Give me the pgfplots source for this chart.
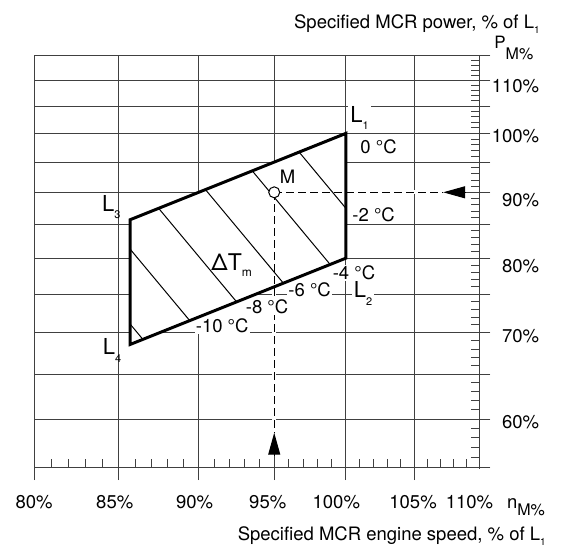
\documentclass[border=0pt]{standalone}
\usepackage{fontspec}
\setmainfont{TeX Gyre Heros}
\usepackage{pgfplots}
\pgfplotsset{compat=1.18}
\usetikzlibrary{arrows.meta}
\definecolor{gridc}{gray}{0.25}
\newcommand\lab{\fontsize{9.25pt}{11pt}\selectfont}
\newcommand\Lfont{\fontsize{11pt}{13pt}\selectfont}
\newcommand\Lsub[1]{L\raisebox{-3.6pt}{\fontsize{5.5pt}{6pt}\selectfont #1}}
\newcommand\Tsub[1]{L\raisebox{-2.4pt}{\fontsize{5pt}{6pt}\selectfont #1}}
\begin{document}
\begin{tikzpicture}[x=0.5pt,y=-0.5pt,font=\lab]
\useasboundingbox (0,0) rectangle (561,551);
\begin{axis}[
  at={(17pt,-233.85pt)}, anchor=south west,
  scale only axis, width=222.5pt, height=206.2pt,
  xmode=log, ymode=log,
  xmin=80, xmax=110, ymin=55, ymax=115,
  axis line style={draw=gridc, line width=0.5pt},
  xtick pos=left, ytick pos=right, yticklabel pos=right,
  % minor (inside) ticks as main ticks
  xtick={81,82,83,84,86,87,88,89,91,92,93,94,96,97,98,99,101,102,103,104,106,107,108,109},
  ytick={56,57,58,59,61,62,63,64,66,67,68,69,71,72,73,74,76,77,78,79,81,82,83,84,86,87,88,89,91,92,93,94,96,97,98,99,101,102,103,104,106,107,108,109,111,112,113,114},
  xticklabels={}, yticklabels={},
  tick align=inside, major tick length=4.25pt,
  tick style={draw=gridc, line width=0.5pt},
  % major (outside) ticks with grid and labels
  extra x ticks={80,85,90,95,100,105,110},
  extra x tick labels={80\%, \kern-4pt 85\%, \kern-4pt 90\%, \kern-6.5pt 95\%, \kern-9.6pt 100\%, \kern-1pt 105\%, \kern-9.6pt 110\%},
  extra x tick style={tick align=outside, major tick length=6.25pt, grid=major},
  extra y ticks={55,60,65,70,75,80,85,90,95,100,105,110,115},
  extra y tick labels={, \raisebox{-4.5pt}{60\%}, , \raisebox{-5pt}{70\%}, , \raisebox{-7pt}{80\%}, , \raisebox{-7.15pt}{90\%}, , \raisebox{-4.5pt}{100\%}, , \raisebox{-6.3pt}{110\%}, },
  extra y tick style={tick align=outside, major tick length=5.75pt, grid=major},
  major grid style={draw=gridc, line width=0.5pt},
  /pgf/number format/assume math mode=true,
  tick label style={font=\lab, inner sep=0pt},
  xticklabel style={anchor=base, yshift=-14.15pt},
  yticklabel style={anchor=base east, xshift=24.5pt},
  xlabel={Specified MCR engine speed, \% of \Tsub{1}},
  ylabel={Specified MCR power, \% of \Tsub{1}},
  every axis x label/.style={at={(axis description cs:1.1506,-0.1777)}, anchor=base east, inner sep=0pt, font=\lab},
  every axis y label/.style={at={(axis description cs:1.137,1.0638)}, anchor=base east, inner sep=0pt, font=\lab},
]
% layout area (white fill hides the grid)
\addplot[draw=none, fill=white] coordinates {(100,100) (100,80) (85.7,68.56) (85.7,85.7)} -- cycle;
% constant temperature lines (every -2 C)
\addplot[black, line width=0.5pt] coordinates {(96.71,96.71) (100,87.46)};
\addplot[black, line width=0.5pt] coordinates {(93.52,93.52) (98.88,79.11)};
\addplot[black, line width=0.5pt] coordinates {(90.44,90.44) (95.63,76.50)};
\addplot[black, line width=0.5pt] coordinates {(87.46,87.46) (92.48,73.99)};
\addplot[black, line width=0.5pt] coordinates {(85.7,81.29) (89.43,71.55)};
\addplot[black, line width=0.5pt] coordinates {(85.7,71.10) (86.48,69.19)};
% blank the grid under the dashed guide lines
\addplot[white, line width=2pt] coordinates {(100.3,90) (108.91,90)};
\addplot[white, line width=2pt] coordinates {(95,75.6) (95,56.19)};
% dashed guide lines from M
\addplot[black, line width=0.5pt, dash pattern=on 4pt off 2pt] coordinates {(95,90) (107.21,90)};
\addplot[black, line width=0.5pt, dash pattern=on 4pt off 2pt] coordinates {(95,90) (95,58.55)};
\addplot[black, line width=0.5pt, -{Triangle[length=11pt,width=6pt]}] coordinates {(108.91,90) (107.21,90)};
\addplot[black, line width=0.5pt, -{Triangle[length=11pt,width=6pt]}] coordinates {(95,56.19) (95,58.55)};
% labels inside the diagram
\node[anchor=base west, fill=white, inner sep=1pt, font=\Lfont] at (rel axis cs:0.70562,0.83657) {\Lsub{1}};
\node[anchor=base west, fill=white, inner sep=1pt, font=\Lfont] at (rel axis cs:0.71303,0.41149) {\Lsub{2}\hspace{8pt}};
\node[anchor=base west, inner sep=0pt, font=\Lfont] at (rel axis cs:0.15191,0.62076) {\Lsub{3}};
\node[anchor=base west, inner sep=0pt, font=\Lfont] at (rel axis cs:0.15393,0.27328) {\Lsub{4}};
\node[anchor=west, fill=white, inner sep=1pt] at (rel axis cs:0.72809,0.77837) {0 °C};
\node[anchor=west, fill=white, inner sep=1pt] at (rel axis cs:0.71011,0.61397) {-2 °C};
\node[anchor=west, fill=white, inner sep=0.5pt] at (rel axis cs:0.66809,0.47284) {-4 °C};
\node[anchor=west, fill=white, inner sep=0.5pt] at (rel axis cs:0.56854,0.43089) {-6 °C};
\node[anchor=west, fill=white, inner sep=0.5pt] at (rel axis cs:0.47281,0.39040) {-8 °C};
\node[anchor=west, fill=white, inner sep=0.5pt] at (rel axis cs:0.36045,0.34360) {-10 °C};
\node[anchor=center, inner sep=0pt] at (rel axis cs:0.56966,0.70563) {M};
\node[anchor=base west, inner sep=0pt, font=\fontsize{11.5pt}{13pt}\selectfont] at (rel axis cs:0.39775,0.47696) {ΔT\raisebox{-3pt}{\fontsize{6pt}{7pt}\selectfont m}};
% layout border
\addplot[black, line width=1.5pt, line join=miter] coordinates {(100,100) (100,80) (85.7,68.56) (85.7,85.7)} -- cycle;
% specified MCR point M
\addplot[only marks, mark=*, mark size=2.75pt, mark options={fill=white, draw=black, line width=0.5pt}] coordinates {(95,90)};
\end{axis}
% hide the outward tick at 110% speed (frame does not extend below)
\draw[white, line width=1.5pt] (479.3,468.7) -- (479.3,484);
% axis symbols
\node[anchor=base west, inner sep=0pt] at (494,48.3) {\fontsize{8.5pt}{10pt}\selectfont P\raisebox{-5.8pt}{\fontsize{8pt}{9pt}\selectfont M\%}};
\node[anchor=base west, inner sep=0pt] at (506.7,508.3) {n\raisebox{-3.5pt}{\fontsize{8pt}{9pt}\selectfont M\%}};
\end{tikzpicture}
\end{document}
